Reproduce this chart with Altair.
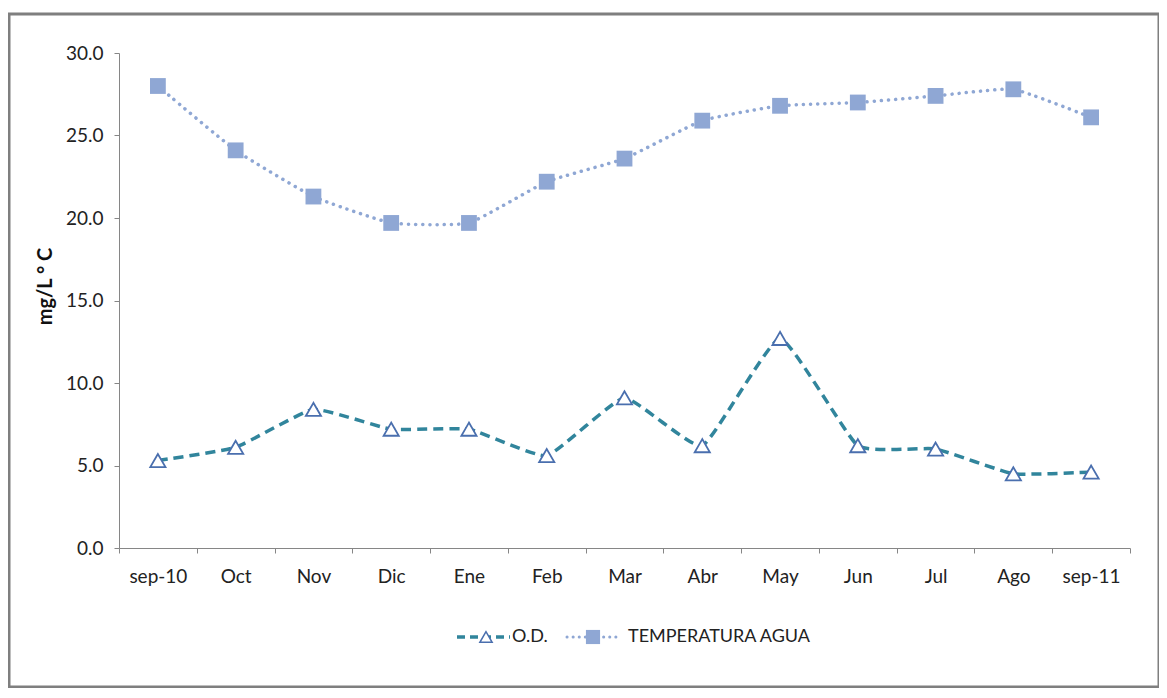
import altair as alt
import pandas as pd

months = ["sep-10", "Oct", "Nov", "Dic", "Ene", "Feb", "Mar", "Abr", "May", "Jun", "Jul", "Ago", "sep-11"]
od = [5.3, 6.1, 8.4, 7.2, 7.2, 5.6, 9.1, 6.2, 12.7, 6.2, 6.0, 4.5, 4.6]
temp = [28.0, 24.1, 21.3, 19.7, 19.7, 22.2, 23.6, 25.9, 26.8, 27.0, 27.4, 27.8, 26.1]
series_names = ["O.D.", "TEMPERATURA AGUA"]
y_ticks = [0, 5, 10, 15, 20, 25, 30]

FONT = "Lato"
FS = 18
OD_LINE = "#31859C"
OD_MARK = "#4A6FAE"
T_COL = "#8FA7D4"

df = pd.DataFrame({"mes": months, "od": od, "temp": temp})

W, H = 1011, 495

xenc = alt.X("mes:N", sort=months, title=None,
             scale=alt.Scale(type="band", paddingInner=0, paddingOuter=0),
             axis=alt.Axis(tickBand="extent", labelAngle=0, labelFontSize=FS + 1, labelFont=FONT,
                           labelColor="#222222", labelPadding=14, tickSize=5,
                           domainColor="#868686", tickColor="#868686", grid=False))
yscale = alt.Scale(domain=[0, 30], nice=False, zero=True)
yaxis = alt.Axis(values=y_ticks, format=".1f", title="mg/L ° C", titleFont=FONT, titleFontSize=20,
                 titleFontWeight="bold", titleColor="#111111", titleAngle=270,
                 titleX=-74, titleY=233, titleAlign="center", titleBaseline="middle",
                 labelFontSize=FS + 1, labelFont=FONT, labelColor="#222222", labelPadding=11,
                 tickSize=5, domainColor="#868686", tickColor="#868686", grid=False)

base = alt.Chart(df)

frame = alt.Chart(alt.Data(values=[{"k": 1}])).mark_rect(
    fill="transparent", stroke="#7f7f7f", strokeWidth=3
).encode(x=alt.value(-110), x2=alt.value(1040), y=alt.value(-39), y2=alt.value(634))

t_line = base.mark_line(color=T_COL, strokeWidth=3.5, strokeDash=[0.1, 7], strokeCap="round",
                        interpolate="cardinal", tension=0.6).encode(
    x=xenc, y=alt.Y("temp:Q", scale=yscale, axis=yaxis))
t_pts = base.mark_point(shape="square", filled=True, size=250, color=T_COL, opacity=1).encode(
    x=alt.X("mes:N", sort=months), y=alt.Y("temp:Q", scale=yscale))

od_line = base.mark_line(color=OD_LINE, strokeWidth=3.5, strokeDash=[10, 6],
                         interpolate="cardinal", tension=0.6).encode(
    x=alt.X("mes:N", sort=months), y=alt.Y("od:Q", scale=yscale))
od_pts = base.mark_point(shape="triangle-up", filled=True, fill="white", stroke=OD_MARK,
                         strokeWidth=1.8, size=230, opacity=1).encode(
    x=alt.X("mes:N", sort=months), y=alt.Y("od:Q", scale=yscale))

leg = alt.Chart(alt.Data(values=[{"k": 1}]))
LY = 584
leg_od_line = leg.mark_rule(color=OD_LINE, strokeWidth=3.5, strokeDash=[8, 5]).encode(
    x=alt.value(338), x2=alt.value(391), y=alt.value(LY))
leg_od_pt = leg.mark_point(shape="triangle-up", filled=True, fill="white", stroke=OD_MARK,
                           strokeWidth=1.5, size=150, opacity=1).encode(
    x=alt.value(367), y=alt.value(LY))
leg_od_txt = leg.mark_text(text=series_names[0], align="left", baseline="middle", font=FONT,
                           fontSize=FS, color="#222222").encode(x=alt.value(393), y=alt.value(LY))
leg_t_line = leg.mark_rule(color=T_COL, strokeWidth=3, strokeDash=[0.1, 6], strokeCap="round").encode(
    x=alt.value(448), x2=alt.value(502), y=alt.value(LY))
leg_t_pt = leg.mark_point(shape="square", filled=True, size=200, color=T_COL, opacity=1).encode(
    x=alt.value(474), y=alt.value(LY))
leg_t_txt = leg.mark_text(text=series_names[1], align="left", baseline="middle", font=FONT,
                          fontSize=FS, color="#222222").encode(x=alt.value(509), y=alt.value(LY))

chart = alt.layer(
    frame, t_line, t_pts, od_line, od_pts,
    leg_od_line, leg_od_pt, leg_od_txt, leg_t_line, leg_t_pt, leg_t_txt
).properties(
    width=W, height=H,
    autosize=alt.AutoSizeParams(type="none"),
    padding={"left": 111, "top": 45, "right": 29, "bottom": 140},
    background="white"
).configure_view(stroke=None)

chart.save("out.html", embed_options={"renderer": "svg", "actions": False})
